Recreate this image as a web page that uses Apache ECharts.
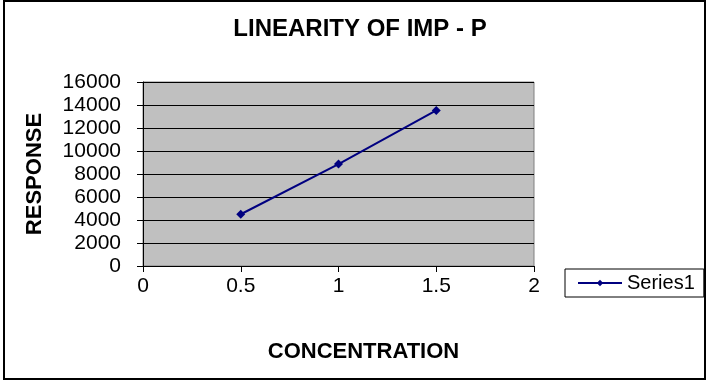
<!DOCTYPE html>
<html>
<head>
<meta charset="utf-8">
<script src="https://cdn.jsdelivr.net/npm/echarts@6/dist/echarts.min.js"></script>
<style>
  html, body { margin: 0; padding: 0; background: #fff; }
  #chartLineBox { width: 713px; height: 382px; }
</style>
</head>
<body>
<div id="chartLineBox"></div>
<script>
// data
const concentration = [0.5, 1, 1.5];
const response = [4500, 8860, 13530];
const seriesName = 'Series1';

const chart = echarts.init(document.getElementById('chartLineBox'));

const font = 'Arial, "Liberation Sans", sans-serif';

const option = {
  backgroundColor: '#fff',
  animation: false,
  title: {
    text: 'LINEARITY OF IMP - P',
    left: 355,
    top: 12,
    textAlign: 'center',
    textStyle: { fontFamily: font, fontSize: 24, fontWeight: 'bold', color: '#000' },
  },
  // outer chart border
  graphic: [
    {
      type: 'rect',
      shape: { x: 4, y: 1, width: 701, height: 378 },
      style: { fill: 'none', stroke: '#000', lineWidth: 2 },
      silent: true,
    },
  ],
  legend: {
    left: 565,
    top: 269,
    padding: [4, 9, 4, 12],
    borderColor: '#000',
    borderWidth: 1,
    itemWidth: 44,
    itemHeight: 8,
    itemGap: 5,
    textStyle: { fontFamily: font, fontSize: 20, color: '#000' },
    data: [seriesName],
  },
  grid: {
    left: 143,
    right: 179,
    top: 82,
    bottom: 116,
    show: true,
    backgroundColor: '#c0c0c0',
    borderColor: '#808080',
    borderWidth: 1,
  },
  xAxis: {
    type: 'value',
    min: 0,
    max: 2,
    interval: 0.5,
    name: 'CONCENTRATION',
    nameLocation: 'middle',
    nameGap: 75,
    nameTextStyle: {
      fontFamily: font, fontSize: 22, fontWeight: 'bold', color: '#000',
      padding: [0, 0, 0, 50],
    },
    axisLine: { show: true, lineStyle: { color: '#000', width: 1 } },
    axisTick: { show: true, length: 6, lineStyle: { color: '#000' } },
    axisLabel: { fontFamily: font, fontSize: 21, color: '#000', margin: 10 },
    splitLine: { show: false },
  },
  yAxis: {
    type: 'value',
    min: 0,
    max: 16000,
    interval: 2000,
    name: 'RESPONSE',
    nameLocation: 'middle',
    nameRotate: 90,
    nameGap: 97,
    nameTextStyle: { fontFamily: font, fontSize: 22, fontWeight: 'bold', color: '#000' },
    axisLine: { show: true, lineStyle: { color: '#000', width: 1 } },
    axisTick: { show: true, length: 6, lineStyle: { color: '#000' } },
    axisLabel: {
      fontFamily: font, fontSize: 21, color: '#000', margin: 22,
      formatter: v => String(v),
    },
    splitLine: { show: true, lineStyle: { color: '#000', width: 1 } },
  },
  series: [
    {
      name: seriesName,
      type: 'line',
      data: concentration.map((c, i) => [c, response[i]]),
      symbol: 'diamond',
      symbolSize: 9,
      itemStyle: { color: '#000080' },
      lineStyle: { color: '#000080', width: 2 },
    },
  ],
};

chart.setOption(option);
</script>
</body>
</html>
